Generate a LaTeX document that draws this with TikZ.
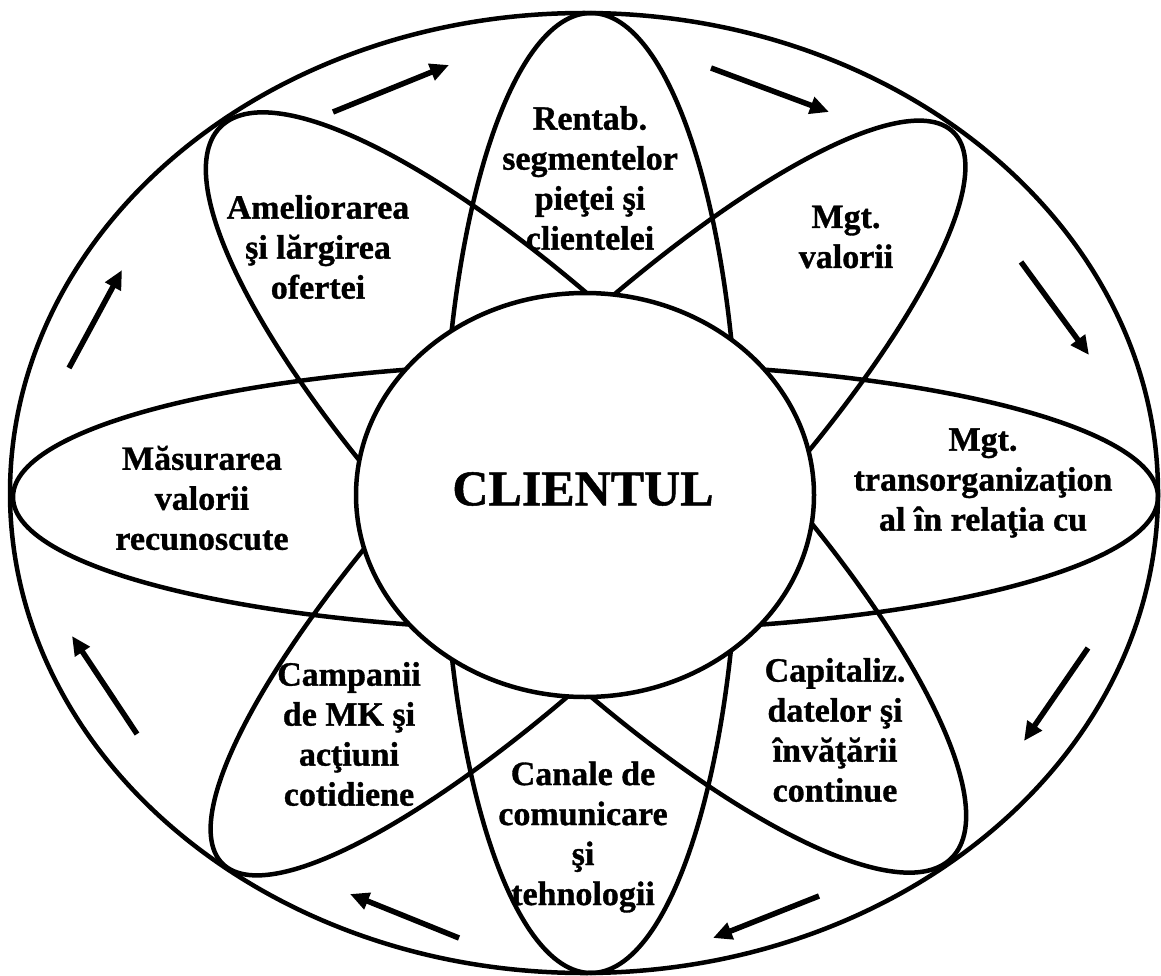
\documentclass[tikz,border=0pt]{standalone}
\usepackage{fontspec}
\setmainfont{Liberation Serif}[BoldFeatures={FakeBold=1}]
\usetikzlibrary{arrows.meta,shapes.geometric}
\begin{document}
\begin{tikzpicture}[x=1pt,y=-1pt]
\tikzset{
  orbit/.style={draw, line width=4.5pt},
  txt/.style={font=\fontsize{34}{40}\selectfont\bfseries, align=center, inner sep=0pt},
  flow/.style={line width=5.5pt, -{Triangle[length=19pt,width=17pt]}}
}
\fill[white] (0,0) rectangle (1161,976);
\useasboundingbox (0,0) rectangle (1161,976);
% orbits
\draw[orbit] (584,493) ellipse [x radius=574pt, y radius=480pt];
\draw[orbit] (585.5,497) ellipse [x radius=572.5pt, y radius=134pt];
\draw[orbit] (591,493) ellipse [x radius=148pt, y radius=480pt];
\draw[orbit, rotate around={-45:(586,492.5)}] (586,492.5) ellipse [x radius=517pt, y radius=147pt];
\draw[orbit, rotate around={45:(588,498)}] (588,498) ellipse [x radius=517pt, y radius=132pt];
% centre
\node[ellipse, draw, fill=white, line width=4.5pt, minimum width=458pt, minimum height=404pt, inner sep=0pt] (client) at (585,495) {};
\node[font=\fontsize{50}{60}\selectfont\bfseries, inner sep=0pt] (clientul) at (583,489) {CLIENTUL};
% labels
\node[txt] (rentab) at (590,178) {Rentab.\\segmentelor\\pieţei şi\\clientelei};
\node[txt] (amel) at (318,247) {Ameliorarea\\şi lărgirea\\ofertei};
\node[txt] (mgtval) at (846,237) {Mgt.\\valorii};
\node[txt] (masur) at (202,498) {Măsurarea\\valorii\\recunoscute};
\node[txt] (mgttrans) at (983,483) {Mgt.\\transorganizaţion\\al în relaţia cu};
\node[txt] (campanii) at (349,734) {Campanii\\de MK şi\\acţiuni\\cotidiene};
\node[txt] (canale) at (583,837) {Canale de\\comunicare\\şi\\tehnologii};
\node[txt] (capital) at (835,730) {Capitaliz.\\datelor şi\\învăţării\\continue};
% arrows
\coordinate (a1s) at (333,112); \coordinate (a1e) at (449,65);
\coordinate (a2s) at (711,68);  \coordinate (a2e) at (829,112);
\coordinate (a3s) at (1021,262); \coordinate (a3e) at (1089,355);
\coordinate (a4s) at (1088,648); \coordinate (a4e) at (1024,741);
\coordinate (a5s) at (819,896); \coordinate (a5e) at (713,938);
\coordinate (a6s) at (459,938); \coordinate (a6e) at (350,894);
\coordinate (a7s) at (137,734); \coordinate (a7e) at (72,636);
\coordinate (a8s) at (69,368);  \coordinate (a8e) at (122,270);
\draw[flow] (a1s) -- (a1e);
\draw[flow] (a2s) -- (a2e);
\draw[flow] (a3s) -- (a3e);
\draw[flow] (a4s) -- (a4e);
\draw[flow] (a5s) -- (a5e);
\draw[flow] (a6s) -- (a6e);
\draw[flow] (a7s) -- (a7e);
\draw[flow] (a8s) -- (a8e);
\end{tikzpicture}
\end{document}
